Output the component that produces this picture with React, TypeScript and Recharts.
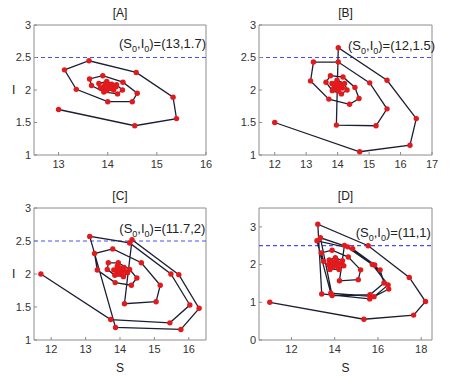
import React from "react";
import {
  ScatterChart,
  Scatter,
  XAxis,
  YAxis,
  ReferenceLine,
  ReferenceArea,
  ReferenceDot,
} from "recharts";

// [A] (S0,I0)=(13,1.7)
const sA = [13, 14.55, 15.4, 15.33, 14.58, 13.62, 13.12, 13.36, 14.0, 14.5, 14.6, 14.31, 13.9, 13.63, 13.67, 13.92, 14.2, 14.3, 14.18, 13.98, 13.82, 13.85, 13.98, 14.12, 14.17, 14.08, 13.95, 13.92, 14.0, 14.08, 14.08, 14.01, 13.98, 14.03];
const iA = [1.7, 1.45, 1.56, 1.89, 2.27, 2.45, 2.31, 2.01, 1.82, 1.82, 1.95, 2.12, 2.22, 2.17, 2.07, 1.97, 1.94, 2.0, 2.08, 2.13, 2.1, 2.03, 1.99, 2.0, 2.05, 2.09, 2.09, 2.05, 2.02, 2.03, 2.07, 2.08, 2.05, 2.04];

// [B] (S0,I0)=(12,1.5)
const sB = [12, 14.7, 16.3, 16.5, 15.57, 14.02, 13.96, 15.22, 15.57, 15.02, 14.02, 13.23, 13.14, 13.72, 14.38, 14.68, 14.55, 14.17, 13.77, 13.63, 13.83, 14.12, 14.3, 14.22, 13.98, 13.82, 13.87, 14.02, 14.15, 14.1, 13.95, 13.9, 14.0, 14.08, 14.02, 13.97, 14.02];
const iB = [1.5, 1.05, 1.15, 1.56, 2.15, 2.65, 1.46, 1.45, 1.71, 2.11, 2.43, 2.43, 2.14, 1.86, 1.78, 1.87, 2.04, 2.2, 2.22, 2.12, 1.99, 1.94, 2.0, 2.1, 2.15, 2.1, 2.02, 1.99, 2.03, 2.09, 2.1, 2.05, 2.02, 2.05, 2.08, 2.06, 2.04];

// [C] (S0,I0)=(11.7,2)
const sC = [11.7, 13.73, 15.45, 16.03, 15.48, 14.28, 13.12, 13.87, 15.77, 16.3, 15.71, 14.35, 14.13, 15.05, 15.17, 14.62, 13.79, 13.26, 13.34, 13.86, 14.33, 14.49, 14.28, 13.95, 13.66, 13.63, 13.85, 14.1, 14.22, 14.12, 13.92, 13.82, 13.92, 14.06, 14.12, 14.02, 13.93, 14.0, 14.06, 14.0];
const iC = [2.0, 1.31, 1.26, 1.53, 2.0, 2.47, 2.57, 1.19, 1.16, 1.48, 1.99, 2.52, 1.55, 1.58, 1.83, 2.17, 2.38, 2.31, 2.06, 1.87, 1.83, 1.94, 2.07, 2.17, 2.17, 2.07, 1.98, 1.96, 2.02, 2.1, 2.12, 2.06, 2.0, 2.0, 2.05, 2.09, 2.06, 2.02, 2.04, 2.06];

// [D] (S0,I0)=(11,1)
const sD = [11, 15.35, 17.65, 18.2, 17.45, 15.55, 13.22, 13.4, 15.62, 16.5, 15.85, 14.83, 13.18, 13.82, 15.82, 16.47, 15.74, 14.6, 13.34, 13.88, 15.63, 16.28, 16.1, 14.45, 14.22, 15.09, 15.2, 14.63, 13.88, 13.38, 13.49, 13.78, 14.2, 14.42, 14.36, 14.03, 13.75, 13.72, 13.92, 14.15, 14.22, 14.08, 13.9, 13.95, 14.08, 14.05];
const iD = [1.0, 0.55, 0.66, 1.02, 1.66, 2.5, 3.07, 1.22, 1.09, 1.35, 1.99, 2.42, 2.63, 1.24, 1.15, 1.46, 2.0, 2.47, 2.71, 1.18, 1.2, 1.51, 1.86, 2.51, 1.57, 1.6, 1.86, 2.2, 2.38, 2.31, 2.08, 1.87, 1.87, 1.97, 2.1, 2.18, 2.12, 2.0, 1.93, 1.95, 2.02, 2.08, 2.06, 2.0, 2.0, 2.04];

const ticksX_A = [13, 14, 15, 16];
const ticksX_B = [12, 13, 14, 15, 16, 17];
const ticksX_C = [12, 13, 14, 15, 16];
const ticksX_D = [12, 14, 16, 18];
const ticksY = [1, 1.5, 2, 2.5, 3];
const ticksY_D = [0, 1, 2, 3];

const FONT = "Arial, 'Liberation Sans', Helvetica, sans-serif";
const RED = "#e31a1c";
const LINE = "#1c1f33";
const FRAME = "#8c8c8c";
const TEXT = "#333";
const DASH = "#4d4dff";

const toPts = (s: number[], i: number[]) => s.map((v, k) => ({ s: v, i: i[k] }));

type PanelProps = {
  left: number;
  top: number;
  title: string;
  s: number[];
  i: number[];
  xDomain: [number, number];
  xTicks: number[];
  yDomain: [number, number];
  yTicks: number[];
  note: string;
  noteAt: [number, number];
  showY: boolean;
  showX: boolean;
  marginRight: number;
};

function Note({ cx, cy, txt }: any) {
  return (
    <text x={cx} y={cy} fontSize={13} fill="#222" fontFamily={FONT}>
      (S<tspan dy={4} fontSize={9}>0</tspan>
      <tspan dy={-4}>,I</tspan>
      <tspan dy={4} fontSize={9}>0</tspan>
      <tspan dy={-4}>)={txt}</tspan>
    </text>
  );
}

function Panel(p: PanelProps) {
  const data = toPts(p.s, p.i);
  const bottom = p.showX ? 5 : 15;
  const xh = p.showX ? 35 : 20;
  const mtop = p.top === 0 ? 25 : 18;
  return (
    <div style={{ position: "absolute", left: p.left, top: p.top }}>
      <div
        style={{
          position: "absolute",
          left: 34,
          width: 225 - 34 - p.marginRight,
          top: mtop - 19,
          textAlign: "center",
          fontFamily: FONT,
          fontSize: 12,
          color: "#222",
        }}
      >
        {p.title}
      </div>
      <ScatterChart
        width={225}
        height={190}
        margin={{ top: mtop, right: p.marginRight, bottom, left: 8 }}
        style={{ fontFamily: FONT }}
      >
        <XAxis
          type="number"
          dataKey="s"
          domain={p.xDomain}
          ticks={p.xTicks}
          allowDataOverflow
          height={xh}
          axisLine={false}
          tickSize={-3}
          tickMargin={8}
          tickLine={{ stroke: FRAME }}
          tick={{ fontSize: 11, fill: TEXT }}
          interval={0}
          label={p.showX ? { value: "S", position: "insideBottom", offset: 3, fontSize: 12, fill: "#222" } : undefined}
        />
        <YAxis
          type="number"
          dataKey="i"
          domain={p.yDomain}
          ticks={p.yTicks}
          allowDataOverflow
          width={26}
          axisLine={false}
          tickSize={-3}
          tickMargin={6}
          tickLine={{ stroke: FRAME }}
          tick={{ fontSize: 11, fill: TEXT }}
          interval={0}
          label={p.showY ? { value: "I", position: "insideLeft", offset: 4, fontSize: 12, fill: "#222" } : undefined}
        />
        <ReferenceArea
          x1={p.xDomain[0]}
          x2={p.xDomain[1]}
          y1={p.yDomain[0]}
          y2={p.yDomain[1]}
          fill="none"
          stroke={FRAME}
          strokeWidth={1}
        />
        <ReferenceLine y={2.5} stroke={DASH} strokeDasharray="4 3" strokeWidth={1.2} />
        <Scatter
          data={data}
          line={{ stroke: LINE, strokeWidth: 1.3 }}
          fill={RED}
          shape={(d: any) => <circle cx={d.cx} cy={d.cy} r={2.7} fill={RED} />}
          isAnimationActive={false}
        />
        <ReferenceDot
          x={p.noteAt[0]}
          y={p.noteAt[1]}
          r={0}
          shape={(d: any) => <Note cx={d.cx} cy={d.cy} txt={p.note} />}
        />
      </ScatterChart>
    </div>
  );
}

export default function App() {
  return (
    <div style={{ position: "absolute", left: 0, top: 0, width: 450, height: 380, background: "#fff" }}>
      <Panel left={0} top={0} title="[A]" s={sA} i={iA} xDomain={[12.5, 16]} xTicks={ticksX_A}
        yDomain={[1, 3]} yTicks={ticksY} note="(13,1.7)" noteAt={[14.23, 2.64]} showY showX={false} marginRight={19} />
      <Panel left={225} top={0} title="[B]" s={sB} i={iB} xDomain={[11.5, 17]} xTicks={ticksX_B}
        yDomain={[1, 3]} yTicks={ticksY} note="(12,1.5)" noteAt={[14.33, 2.61]} showY={false} showX={false} marginRight={18} />
      <Panel left={0} top={190} title="[C]" s={sC} i={iC} xDomain={[11.5, 16.5]} xTicks={ticksX_C}
        yDomain={[1, 3]} yTicks={ticksY} note="(11.7,2)" noteAt={[13.98, 2.62]} showY showX marginRight={19} />
      <Panel left={225} top={190} title="[D]" s={sD} i={iD} xDomain={[10.5, 18.5]} xTicks={ticksX_D}
        yDomain={[0, 3.5]} yTicks={ticksY_D} note="(11,1)" noteAt={[14.97, 2.74]} showY={false} showX marginRight={18} />
    </div>
  );
}
